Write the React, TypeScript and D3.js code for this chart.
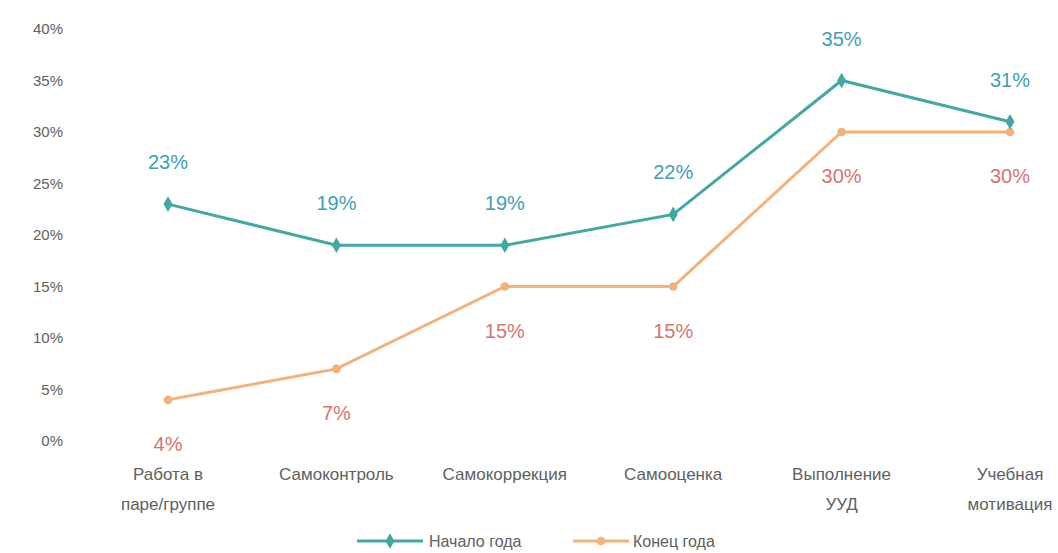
import React from "react";
import * as d3 from "d3";

const categories = [
  ["Работа в", "паре/группе"],
  ["Самоконтроль"],
  ["Самокоррекция"],
  ["Самооценка"],
  ["Выполнение", "УУД"],
  ["Учебная", "мотивация"],
];
const startValues = [23, 19, 19, 22, 35, 31];
const endValues = [4, 7, 15, 15, 30, 30];
const yTicks = [0, 5, 10, 15, 20, 25, 30, 35, 40];
const seriesNames = ["Начало года", "Конец года"];

const W = 1058;
const H = 553;
const FONT = "'Liberation Sans', Arial, sans-serif";
const BLUE = "#43a8a2";
const ORANGE = "#f3b27c";
const BLUE_LABEL = "#3f9fb0";
const ORANGE_LABEL = "#d9736f";
const AXIS_TEXT = "#606060";

export default function App() {
  const keys = categories.map((c) => c.join(" "));
  const x = d3.scalePoint<string>().domain(keys).range([168, 1010]);
  const y = d3.scaleLinear().domain([0, 40]).range([441, 29]);
  const line = d3
    .line<number>()
    .x((_, i) => x(keys[i]) as number)
    .y((d) => y(d));

  const diamond = d3.symbol().type(d3.symbolDiamond).size(70)() as string;
  const circle = d3.symbol().type(d3.symbolCircle).size(60)() as string;

  return (
    <svg
      width={W}
      height={H}
      style={{ position: "absolute", left: 0, top: 0, background: "#fff" }}
      fontFamily={FONT}
    >
      {/* Y axis labels */}
      {yTicks.map((t) => (
        <text
          key={t}
          x={63}
          y={y(t)}
          dy="0.35em"
          textAnchor="end"
          fontSize={15}
          fill={AXIS_TEXT}
        >
          {t}%
        </text>
      ))}

      {/* X axis labels */}
      {categories.map((c, i) => (
        <text
          key={i}
          x={x(keys[i])}
          y={474}
          textAnchor="middle"
          fontSize={17}
          fill={AXIS_TEXT}
        >
          {c.map((ln, j) => (
            <tspan key={j} x={x(keys[i])} dy={j === 0 ? "0.35em" : 30}>
              {ln}
            </tspan>
          ))}
        </text>
      ))}

      {/* Lines */}
      <path d={line(endValues) as string} fill="none" stroke={ORANGE} strokeWidth={3} />
      <path d={line(startValues) as string} fill="none" stroke={BLUE} strokeWidth={3} />

      {endValues.map((v, i) => (
        <path
          key={"em" + i}
          d={circle}
          transform={`translate(${x(keys[i])},${y(v)})`}
          fill={ORANGE}
        />
      ))}
      {startValues.map((v, i) => (
        <path
          key={"sm" + i}
          d={diamond}
          transform={`translate(${x(keys[i])},${y(v)})`}
          fill={BLUE}
        />
      ))}

      {/* Data labels */}
      {startValues.map((v, i) => (
        <text
          key={"sl" + i}
          x={x(keys[i])}
          y={y(v) - 42}
          dy="0.35em"
          textAnchor="middle"
          fontSize={20}
          fill={BLUE_LABEL}
        >
          {v}%
        </text>
      ))}
      {endValues.map((v, i) => (
        <text
          key={"el" + i}
          x={x(keys[i])}
          y={y(v) + 44}
          dy="0.35em"
          textAnchor="middle"
          fontSize={20}
          fill={ORANGE_LABEL}
        >
          {v}%
        </text>
      ))}

      {/* Legend */}
      <g transform="translate(357,541)">
        <line x1={0} x2={66} y1={0} y2={0} stroke={BLUE} strokeWidth={3} />
        <path d={diamond} transform="translate(33,0)" fill={BLUE} />
        <text x={72} y={0} dy="0.35em" fontSize={16} fill={AXIS_TEXT}>
          {seriesNames[0]}
        </text>
      </g>
      <g transform="translate(573,541)">
        <line x1={0} x2={56} y1={0} y2={0} stroke={ORANGE} strokeWidth={3} />
        <path d={circle} transform="translate(28,0)" fill={ORANGE} />
        <text x={60} y={0} dy="0.35em" fontSize={16} fill={AXIS_TEXT}>
          {seriesNames[1]}
        </text>
      </g>
    </svg>
  );
}
